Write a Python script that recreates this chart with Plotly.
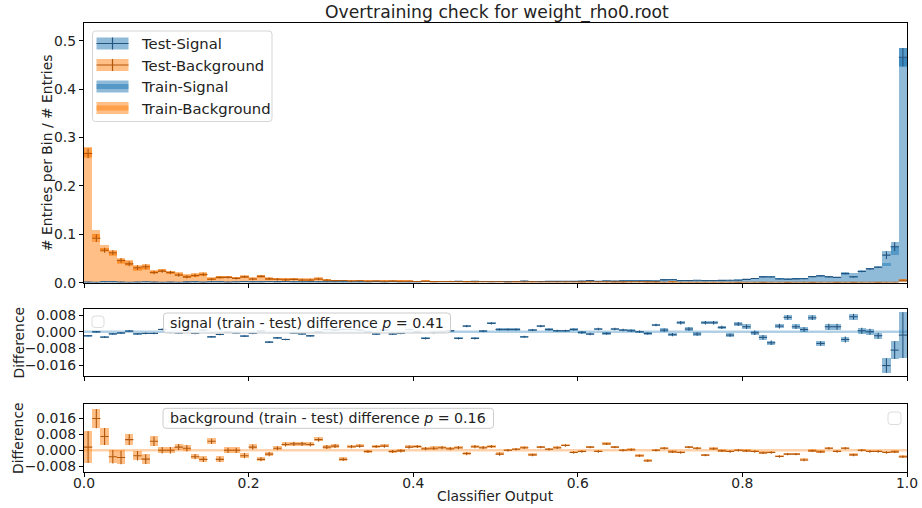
import plotly.graph_objects as go

W, H = 922, 508

# ---------------- data ----------------
n_bins = 100
bin_centers = [round(0.005 + 0.01 * i, 3) for i in range(n_bins)]

test_signal = [
    0.0012, 0.0010, 0.0016, 0.0015, 0.0012, 0.0009, 0.0011, 0.0013, 0.0012, 0.0010,
    0.0011, 0.0010, 0.0012, 0.0014, 0.0011, 0.0015, 0.0014, 0.0012, 0.0013, 0.0020,
    0.0016, 0.0013, 0.0021, 0.0018, 0.0020, 0.0014, 0.0016, 0.0018, 0.0015, 0.0014,
    0.0015, 0.0014, 0.0016, 0.0015, 0.0017, 0.0019, 0.0016, 0.0020, 0.0018, 0.0016,
    0.0018, 0.0024, 0.0020, 0.0019, 0.0021, 0.0028, 0.0023, 0.0030, 0.0025, 0.0021,
    0.0024, 0.0022, 0.0025, 0.0032, 0.0026, 0.0024, 0.0028, 0.0027, 0.0029, 0.0028,
    0.0032, 0.0042, 0.0031, 0.0034, 0.0032, 0.0035, 0.0034, 0.0036, 0.0035, 0.0033,
    0.0058, 0.0062, 0.0044, 0.0046, 0.0050, 0.0045, 0.0047, 0.0049, 0.0052, 0.0050,
    0.0068, 0.0088, 0.0120, 0.0118, 0.0078, 0.0070, 0.0080, 0.0082, 0.0125, 0.0140,
    0.0120, 0.0110, 0.0190, 0.0120, 0.0230, 0.0285, 0.0320, 0.0570, 0.0744, 0.4660,
]
train_signal = [
    0.0010, 0.0011, 0.0013, 0.0014, 0.0012, 0.0010, 0.0010, 0.0012, 0.0011, 0.0012,
    0.0011, 0.0010, 0.0013, 0.0013, 0.0012, 0.0013, 0.0013, 0.0012, 0.0012, 0.0018,
    0.0015, 0.0014, 0.0016, 0.0015, 0.0016, 0.0013, 0.0015, 0.0016, 0.0015, 0.0015,
    0.0016, 0.0015, 0.0017, 0.0016, 0.0017, 0.0018, 0.0017, 0.0019, 0.0017, 0.0017,
    0.0018, 0.0021, 0.0020, 0.0019, 0.0021, 0.0025, 0.0026, 0.0027, 0.0025, 0.0025,
    0.0025, 0.0023, 0.0026, 0.0030, 0.0027, 0.0027, 0.0029, 0.0028, 0.0030, 0.0029,
    0.0032, 0.0041, 0.0032, 0.0033, 0.0033, 0.0036, 0.0034, 0.0036, 0.0034, 0.0036,
    0.0059, 0.0061, 0.0048, 0.0047, 0.0049, 0.0049, 0.0051, 0.0051, 0.0050, 0.0054,
    0.0070, 0.0087, 0.0117, 0.0113, 0.0081, 0.0077, 0.0082, 0.0083, 0.0132, 0.0134,
    0.0122, 0.0112, 0.0170, 0.0180, 0.0235, 0.0285, 0.0305, 0.0410, 0.0656, 0.4644,
]
test_background = [
    0.267, 0.092, 0.067, 0.062, 0.046, 0.039, 0.031, 0.033, 0.021, 0.024,
    0.021, 0.016, 0.012, 0.015, 0.017, 0.0070, 0.011, 0.011, 0.009, 0.012,
    0.0075, 0.013, 0.008, 0.007, 0.006, 0.0068, 0.0055, 0.0055, 0.0075, 0.005,
    0.0042, 0.0046, 0.0036, 0.0040, 0.0031, 0.0035, 0.0030, 0.0032, 0.0028, 0.0030,
    0.0025, 0.0030, 0.0022, 0.0024, 0.0026, 0.0020, 0.0022, 0.0018, 0.0020, 0.0021,
    0.0021, 0.0016, 0.0018, 0.0015, 0.0017, 0.0014, 0.0015, 0.0016, 0.0013, 0.0015,
    0.0012, 0.0014, 0.0013, 0.0016, 0.0012, 0.0011, 0.0013, 0.0014, 0.0012, 0.0011,
    0.0010, 0.0011, 0.0009, 0.0010, 0.0008, 0.0009, 0.0010, 0.0008, 0.0009, 0.0007,
    0.0008, 0.0009, 0.0007, 0.0008, 0.0009, 0.0007, 0.0008, 0.0010, 0.0007, 0.0008,
    0.0009, 0.0007, 0.0008, 0.0007, 0.0009, 0.0008, 0.0007, 0.0008, 0.0009, 0.0050,
]
train_background = [
    0.270, 0.100, 0.072, 0.060, 0.044, 0.041, 0.029, 0.031, 0.023, 0.024,
    0.021, 0.017, 0.013, 0.014, 0.016, 0.0085, 0.010, 0.011, 0.009, 0.011,
    0.0080, 0.012, 0.0075, 0.0072, 0.0065, 0.0072, 0.0060, 0.0060, 0.0080, 0.0054,
    0.0045, 0.0042, 0.0038, 0.0041, 0.0031, 0.0036, 0.0031, 0.0031, 0.0028, 0.0031,
    0.0026, 0.0030, 0.0023, 0.0025, 0.0026, 0.0021, 0.0021, 0.0019, 0.0021, 0.0022,
    0.0020, 0.0016, 0.0018, 0.0016, 0.0016, 0.0015, 0.0015, 0.0016, 0.0014, 0.0015,
    0.0012, 0.0015, 0.0013, 0.0017, 0.0013, 0.0011, 0.0013, 0.0013, 0.0011, 0.0011,
    0.0010, 0.0011, 0.0009, 0.0010, 0.0009, 0.0009, 0.0010, 0.0008, 0.0009, 0.0007,
    0.0008, 0.0009, 0.0007, 0.0008, 0.0008, 0.0007, 0.0008, 0.0009, 0.0007, 0.0008,
    0.0009, 0.0007, 0.0008, 0.0007, 0.0009, 0.0008, 0.0007, 0.0008, 0.0009, 0.0048,
]
# uncertainties shown in the top panel
signal_err_top = [
    0.0006, 0.0006, 0.0006, 0.0006, 0.0006, 0.0006, 0.0006, 0.0006, 0.0006, 0.0006,
    0.0006, 0.0006, 0.0006, 0.0006, 0.0006, 0.0006, 0.0006, 0.0006, 0.0006, 0.0006,
    0.0006, 0.0006, 0.0006, 0.0006, 0.0006, 0.0006, 0.0006, 0.0006, 0.0006, 0.0006,
    0.0006, 0.0006, 0.0006, 0.0006, 0.0006, 0.0006, 0.0006, 0.0006, 0.0006, 0.0006,
    0.0006, 0.0006, 0.0006, 0.0006, 0.0006, 0.0006, 0.0006, 0.0006, 0.0006, 0.0006,
    0.0006, 0.0006, 0.0006, 0.0006, 0.0006, 0.0006, 0.0006, 0.0006, 0.0006, 0.0006,
    0.0006, 0.0006, 0.0006, 0.0006, 0.0006, 0.0006, 0.0006, 0.0006, 0.0006, 0.0006,
    0.0008, 0.0008, 0.0008, 0.0008, 0.0008, 0.0008, 0.0008, 0.0008, 0.0008, 0.0008,
    0.0010, 0.0010, 0.0010, 0.0010, 0.0010, 0.0010, 0.0010, 0.0010, 0.0010, 0.0010,
    0.0010, 0.0010, 0.0015, 0.0015, 0.0015, 0.0015, 0.0015, 0.0080, 0.0090, 0.0190,
]
background_err_top = [
    0.0100, 0.0080, 0.0050, 0.0050, 0.0050, 0.0050, 0.0050, 0.0050, 0.0035, 0.0035,
    0.0035, 0.0035, 0.0035, 0.0035, 0.0035, 0.0025, 0.0025, 0.0025, 0.0025, 0.0025,
    0.0025, 0.0025, 0.0025, 0.0025, 0.0025, 0.0025, 0.0025, 0.0025, 0.0025, 0.0025,
    0.0012, 0.0012, 0.0012, 0.0012, 0.0012, 0.0012, 0.0012, 0.0012, 0.0012, 0.0012,
    0.0012, 0.0012, 0.0012, 0.0012, 0.0012, 0.0012, 0.0012, 0.0012, 0.0012, 0.0012,
    0.0010, 0.0010, 0.0010, 0.0010, 0.0010, 0.0010, 0.0010, 0.0010, 0.0010, 0.0010,
    0.0010, 0.0010, 0.0010, 0.0010, 0.0010, 0.0010, 0.0010, 0.0010, 0.0010, 0.0010,
    0.0008, 0.0008, 0.0008, 0.0008, 0.0008, 0.0008, 0.0008, 0.0008, 0.0008, 0.0008,
    0.0008, 0.0008, 0.0008, 0.0008, 0.0008, 0.0008, 0.0008, 0.0008, 0.0008, 0.0008,
    0.0008, 0.0008, 0.0008, 0.0008, 0.0008, 0.0008, 0.0008, 0.0008, 0.0008, 0.0015,
]
# differences (train - test)
signal_diff = [
    -0.0019, 0.0000, -0.0026, -0.0010, -0.0006, 0.0003, -0.0010, -0.0008, -0.0008, 0.0011,
    -0.0003, -0.0005, 0.0006, -0.0008, 0.0008, -0.0024, -0.0013, -0.0002, -0.0005, -0.0021,
    -0.0008, 0.0003, -0.0050, -0.0029, -0.0037, -0.0006, -0.0010, -0.0019, 0.0000, 0.0011,
    0.0008, 0.0011, 0.0011, 0.0008, 0.0000, -0.0011, 0.0008, -0.0011, -0.0008, 0.0011,
    0.0000, -0.0032, -0.0003, 0.0000, 0.0005, -0.0032, 0.0027, -0.0032, 0.0003, 0.0040,
    0.0011, 0.0011, 0.0011, -0.0024, 0.0008, 0.0027, 0.0011, 0.0005, 0.0005, 0.0011,
    -0.0003, -0.0011, 0.0013, -0.0008, 0.0013, 0.0008, 0.0005, 0.0000, -0.0008, 0.0032,
    0.0008, -0.0014, 0.0043, 0.0013, -0.0011, 0.0043, 0.0043, 0.0021, -0.0016, 0.0037,
    0.0024, -0.0005, -0.0027, -0.0053, 0.0027, 0.0069, 0.0024, 0.0011, 0.0067, -0.0056,
    0.0024, 0.0024, -0.0037, 0.0072, 0.0005, 0.0000, -0.0019, -0.0162, -0.0088, -0.0016,
]
signal_diff_err = [
    0.0004, 0.0004, 0.0004, 0.0004, 0.0004, 0.0004, 0.0004, 0.0004, 0.0004, 0.0004,
    0.0004, 0.0004, 0.0004, 0.0004, 0.0004, 0.0004, 0.0004, 0.0004, 0.0004, 0.0004,
    0.0004, 0.0004, 0.0004, 0.0004, 0.0004, 0.0004, 0.0004, 0.0004, 0.0004, 0.0004,
    0.0004, 0.0004, 0.0004, 0.0004, 0.0004, 0.0004, 0.0004, 0.0004, 0.0004, 0.0004,
    0.0005, 0.0005, 0.0005, 0.0005, 0.0005, 0.0005, 0.0005, 0.0005, 0.0005, 0.0005,
    0.0005, 0.0005, 0.0005, 0.0005, 0.0005, 0.0005, 0.0005, 0.0005, 0.0005, 0.0005,
    0.0006, 0.0006, 0.0006, 0.0006, 0.0006, 0.0006, 0.0006, 0.0006, 0.0006, 0.0006,
    0.0008, 0.0008, 0.0008, 0.0008, 0.0008, 0.0008, 0.0008, 0.0008, 0.0008, 0.0008,
    0.0011, 0.0011, 0.0011, 0.0011, 0.0011, 0.0011, 0.0011, 0.0011, 0.0011, 0.0011,
    0.0014, 0.0014, 0.0014, 0.0014, 0.0014, 0.0014, 0.0014, 0.0035, 0.0042, 0.0110,
]
background_diff = [
    0.0016, 0.0158, 0.0069, -0.0032, -0.0036, 0.0053, -0.0027, -0.0044, 0.0045, 0.0000,
    0.0000, 0.0016, 0.0010, -0.0032, -0.0045, 0.0045, -0.0045, 0.0000, 0.0000, -0.0027,
    0.0016, -0.0045, -0.0019, 0.0010, 0.0029, 0.0032, 0.0032, 0.0029, 0.0053, 0.0016,
    0.0021, -0.0045, 0.0018, 0.0021, -0.0006, 0.0019, 0.0021, -0.0006, -0.0003, 0.0016,
    0.0019, 0.0008, 0.0010, 0.0013, 0.0008, 0.0013, -0.0016, 0.0018, 0.0013, 0.0019,
    -0.0019, 0.0000, 0.0005, 0.0013, -0.0023, 0.0016, 0.0005, 0.0013, 0.0024, -0.0011,
    -0.0006, 0.0016, -0.0006, 0.0032, 0.0016, 0.0000, 0.0003, -0.0027, -0.0052, 0.0000,
    0.0010, -0.0008, -0.0011, 0.0016, 0.0010, -0.0024, 0.0008, -0.0003, -0.0006, 0.0000,
    -0.0003, -0.0006, -0.0013, -0.0011, -0.0031, -0.0019, -0.0019, -0.0048, -0.0003, -0.0008,
    0.0010, -0.0006, 0.0010, -0.0023, 0.0000, -0.0006, -0.0006, -0.0011, -0.0008, -0.0032,
]
background_diff_err = [
    0.0079, 0.0048, 0.0042, 0.0034, 0.0034, 0.0027, 0.0024, 0.0024, 0.0024, 0.0016,
    0.0016, 0.0016, 0.0016, 0.0013, 0.0013, 0.0013, 0.0013, 0.0013, 0.0013, 0.0013,
    0.0013, 0.0010, 0.0010, 0.0010, 0.0010, 0.0010, 0.0010, 0.0010, 0.0010, 0.0010,
    0.0010, 0.0008, 0.0008, 0.0008, 0.0008, 0.0008, 0.0008, 0.0008, 0.0008, 0.0008,
    0.0008, 0.0008, 0.0008, 0.0008, 0.0008, 0.0008, 0.0008, 0.0008, 0.0008, 0.0008,
    0.0008, 0.0006, 0.0006, 0.0006, 0.0006, 0.0006, 0.0006, 0.0006, 0.0006, 0.0006,
    0.0006, 0.0006, 0.0006, 0.0006, 0.0006, 0.0006, 0.0006, 0.0006, 0.0006, 0.0006,
    0.0006, 0.0006, 0.0006, 0.0006, 0.0006, 0.0006, 0.0006, 0.0006, 0.0006, 0.0006,
    0.0006, 0.0006, 0.0006, 0.0006, 0.0006, 0.0006, 0.0006, 0.0006, 0.0006, 0.0006,
    0.0006, 0.0006, 0.0006, 0.0006, 0.0006, 0.0006, 0.0006, 0.0006, 0.0006, 0.0006,
]
signal_p = "0.41"
background_p = "0.16"
x_ticks = [0.0, 0.2, 0.4, 0.6, 0.8, 1.0]
top_ticks = [0.0, 0.1, 0.2, 0.3, 0.4, 0.5]
sig_diff_ticks = [0.008, 0.0, -0.008, -0.016]
bkg_diff_ticks = [0.016, 0.008, 0.0, -0.008]

# ---------------- styling ----------------
FONT = "DejaVu Sans"
TXT = "#222222"
BLUE_FILL = "rgba(31,119,180,0.5)"
ORNG_FILL = "rgba(255,127,14,0.5)"
BLUE_DARK = "#24557f"
ORNG_DARK = "#b0570c"
BLUE_LINE = "rgba(31,119,180,0.35)"
ORNG_LINE = "rgba(255,127,14,0.35)"
BW = 0.01


def px(x):
    return x / W


def py(y):
    return 1 - y / H


XL, XR = 84, 907
top_dom = [py(282.7), py(23.3)]
mid_dom = [py(376), py(309)]
bot_dom = [py(472), py(404.3)]

fig = go.Figure()


def hist_fill(vals, color, xa, ya):
    fig.add_trace(go.Bar(x=bin_centers, y=vals, width=BW, marker=dict(color=color, line=dict(width=0)),
                         xaxis=xa, yaxis=ya, showlegend=False, hoverinfo="skip"))


def err_box(vals, errs, color, xa, ya):
    base = [v - e for v, e in zip(vals, errs)]
    height = [2 * e for e in errs]
    fig.add_trace(go.Bar(x=bin_centers, y=height, base=base, width=BW,
                         marker=dict(color=color, line=dict(width=0)),
                         xaxis=xa, yaxis=ya, showlegend=False, hoverinfo="skip"))


def cross(vals, errs, color, xa, ya):
    fig.add_trace(go.Scatter(x=bin_centers, y=vals, mode="markers",
                             marker=dict(size=2, opacity=0, color=color),
                             error_x=dict(type="constant", value=BW / 2, width=0, thickness=1.1, color=color),
                             error_y=dict(type="data", array=errs, width=0, thickness=1.1, color=color),
                             xaxis=xa, yaxis=ya, showlegend=False, hoverinfo="skip"))


# top panel: train filled histograms with error bands, test error boxes + crosses
hist_fill(train_signal, BLUE_FILL, "x", "y")
hist_fill(train_background, ORNG_FILL, "x", "y")
err_box(train_signal, signal_err_top, BLUE_FILL, "x", "y")
err_box(train_background, background_err_top, ORNG_FILL, "x", "y")
err_box(test_signal, signal_err_top, BLUE_FILL, "x", "y")
err_box(test_background, background_err_top, ORNG_FILL, "x", "y")
cross(test_signal, signal_err_top, BLUE_DARK, "x", "y")
cross(test_background, background_err_top, ORNG_DARK, "x", "y")

# middle: signal differences
err_box(signal_diff, signal_diff_err, BLUE_FILL, "x2", "y2")
cross(signal_diff, signal_diff_err, BLUE_DARK, "x2", "y2")
# bottom: background differences
err_box(background_diff, background_diff_err, ORNG_FILL, "x3", "y3")
cross(background_diff, background_diff_err, ORNG_DARK, "x3", "y3")

axis_common = dict(showline=True, linecolor="black", linewidth=1.2, mirror=True,
                   ticks="outside", ticklen=4, tickwidth=1, tickcolor="black",
                   showgrid=False, zeroline=False, automargin=False,
                   tickfont=dict(family=FONT, size=13.9, color=TXT))

fig.update_layout(
    width=W, height=H, margin=dict(l=0, r=0, t=0, b=0),
    paper_bgcolor="white", plot_bgcolor="white",
    barmode="overlay", bargap=0, showlegend=False,
    font=dict(family=FONT, color=TXT),
    xaxis=dict(domain=[px(XL), px(XR)], range=[0, 1], anchor="y", tickvals=x_ticks,
               showticklabels=False, **axis_common),
    yaxis=dict(domain=top_dom, range=[0, 0.536], anchor="x", tickvals=top_ticks,
               tickformat=".1f", **axis_common),
    xaxis2=dict(domain=[px(XL), px(XR)], range=[0, 1], anchor="y2", tickvals=x_ticks,
                showticklabels=False, **axis_common),
    yaxis2=dict(domain=mid_dom, range=[-0.0212, 0.0109], anchor="x2", tickvals=sig_diff_ticks,
                tickformat=".3f", **axis_common),
    xaxis3=dict(domain=[px(XL), px(XR)], range=[0, 1], anchor="y3", tickvals=x_ticks,
                tickformat=".1f", ticklabelstandoff=-6, **axis_common),
    yaxis3=dict(domain=bot_dom, range=[-0.0108, 0.0229], anchor="x3", tickvals=bkg_diff_ticks,
                tickformat=".3f", **axis_common),
)

shapes = []
annots = []

# zero lines in the difference panels
shapes.append(dict(type="line", xref="x2", yref="y2", x0=0, x1=1, y0=0, y1=0,
                   line=dict(color=BLUE_LINE, width=2.5), layer="below"))
shapes.append(dict(type="line", xref="x3", yref="y3", x0=0, x1=1, y0=0, y1=0,
                   line=dict(color=ORNG_LINE, width=2.5), layer="below"))


def rrect(x0, y0, x1, y1, r=3):
    X0, X1 = px(x0), px(x1)
    Y0, Y1 = py(y0), py(y1)
    rx, ry = r / W, r / H
    return (f"M {X0 + rx},{Y0} L {X1 - rx},{Y0} Q {X1},{Y0} {X1},{Y0 - ry} "
            f"L {X1},{Y1 + ry} Q {X1},{Y1} {X1 - rx},{Y1} L {X0 + rx},{Y1} "
            f"Q {X0},{Y1} {X0},{Y1 + ry} L {X0},{Y0 - ry} Q {X0},{Y0} {X0 + rx},{Y0} Z")


# legend of the top panel (drawn by hand to mimic matplotlib handles)
shapes.append(dict(type="path", xref="paper", yref="paper", path=rrect(92.5, 31, 272, 121.5),
                   line=dict(color="#d5d5d5", width=1), fillcolor="rgba(255,255,255,0.85)", layer="above"))
legend_items = [("Test-Signal", BLUE_FILL, BLUE_DARK, True),
                ("Test-Background", ORNG_FILL, ORNG_DARK, True),
                ("Train-Signal", BLUE_FILL, "rgba(31,119,180,0.75)", False),
                ("Train-Background", ORNG_FILL, "rgba(255,127,14,0.75)", False)]
leg_y = [43.5, 65.0, 86.5, 108.0]
for (label, fill, dark, is_test), yc in zip(legend_items, leg_y):
    hx0, hx1 = 96.5, 128.5
    shapes.append(dict(type="rect", xref="paper", yref="paper", x0=px(hx0), x1=px(hx1),
                       y0=py(yc + 6), y1=py(yc - 6), fillcolor=fill, line=dict(width=0), layer="above"))
    if is_test:
        shapes.append(dict(type="line", xref="paper", yref="paper", x0=px(hx0), x1=px(hx1),
                           y0=py(yc), y1=py(yc), line=dict(color=dark, width=1.2), layer="above"))
        shapes.append(dict(type="line", xref="paper", yref="paper", x0=px((hx0 + hx1) / 2),
                           x1=px((hx0 + hx1) / 2), y0=py(yc + 6), y1=py(yc - 6),
                           line=dict(color=dark, width=1.2), layer="above"))
    else:
        shapes.append(dict(type="rect", xref="paper", yref="paper", x0=px(hx0), x1=px(hx1),
                           y0=py(yc + 2.5), y1=py(yc - 2.5), fillcolor=fill, line=dict(width=0),
                           layer="above"))
    annots.append(dict(xref="paper", yref="paper", x=px(139), y=py(yc), text=label, showarrow=False,
                       xanchor="left", yanchor="middle", font=dict(family=FONT, size=14.8, color=TXT)))

# empty legend frames in the difference panels
shapes.append(dict(type="path", xref="paper", yref="paper", path=rrect(92, 316, 104, 327.5),
                   line=dict(color="#dddddd", width=1), fillcolor="rgba(255,255,255,0.85)", layer="above"))
shapes.append(dict(type="path", xref="paper", yref="paper", path=rrect(888, 412, 901, 424.5),
                   line=dict(color="#dddddd", width=1), fillcolor="rgba(255,255,255,0.85)", layer="above"))

# p-value text boxes
shapes.append(dict(type="path", xref="paper", yref="paper", path=rrect(163.5, 313, 450.5, 333),
                   line=dict(color="#cccccc", width=1), fillcolor="rgba(255,255,255,0.85)", layer="above"))
annots.append(dict(xref="paper", yref="paper", x=px(307), y=py(322.5),
                   text=f"signal (train - test) difference <i>p</i> = {signal_p}",
                   showarrow=False, xanchor="center", yanchor="middle",
                   font=dict(family=FONT, size=14.2, color=TXT)))
shapes.append(dict(type="path", xref="paper", yref="paper", path=rrect(163, 408.3, 493.5, 428.3),
                   line=dict(color="#cccccc", width=1), fillcolor="rgba(255,255,255,0.85)", layer="above"))
annots.append(dict(xref="paper", yref="paper", x=px(328.2), y=py(418),
                   text=f"background (train - test) difference <i>p</i> = {background_p}",
                   showarrow=False, xanchor="center", yanchor="middle",
                   font=dict(family=FONT, size=14.2, color=TXT)))

# titles
annots.append(dict(xref="paper", yref="paper", x=px(496.5), y=py(12.5),
                   text="Overtraining check for weight_rho0.root", showarrow=False,
                   xanchor="center", yanchor="middle", font=dict(family=FONT, size=17.2, color=TXT)))
annots.append(dict(xref="paper", yref="paper", x=px(47), y=py(153),
                   text="# Entries per Bin / # Entries", showarrow=False, textangle=-90,
                   xanchor="center", yanchor="middle", font=dict(family=FONT, size=13.9, color=TXT)))
annots.append(dict(xref="paper", yref="paper", x=px(18), y=py(342.5), text="Difference",
                   showarrow=False, textangle=-90, xanchor="center", yanchor="middle",
                   font=dict(family=FONT, size=13.9, color=TXT)))
annots.append(dict(xref="paper", yref="paper", x=px(18), y=py(438), text="Difference",
                   showarrow=False, textangle=-90, xanchor="center", yanchor="middle",
                   font=dict(family=FONT, size=13.9, color=TXT)))
annots.append(dict(xref="paper", yref="paper", x=px(495.5), y=py(495.5), text="Classifier Output",
                   showarrow=False, xanchor="center", yanchor="middle",
                   font=dict(family=FONT, size=13.9, color=TXT)))

fig.update_layout(shapes=shapes, annotations=annots)
fig.write_html("out.html")
